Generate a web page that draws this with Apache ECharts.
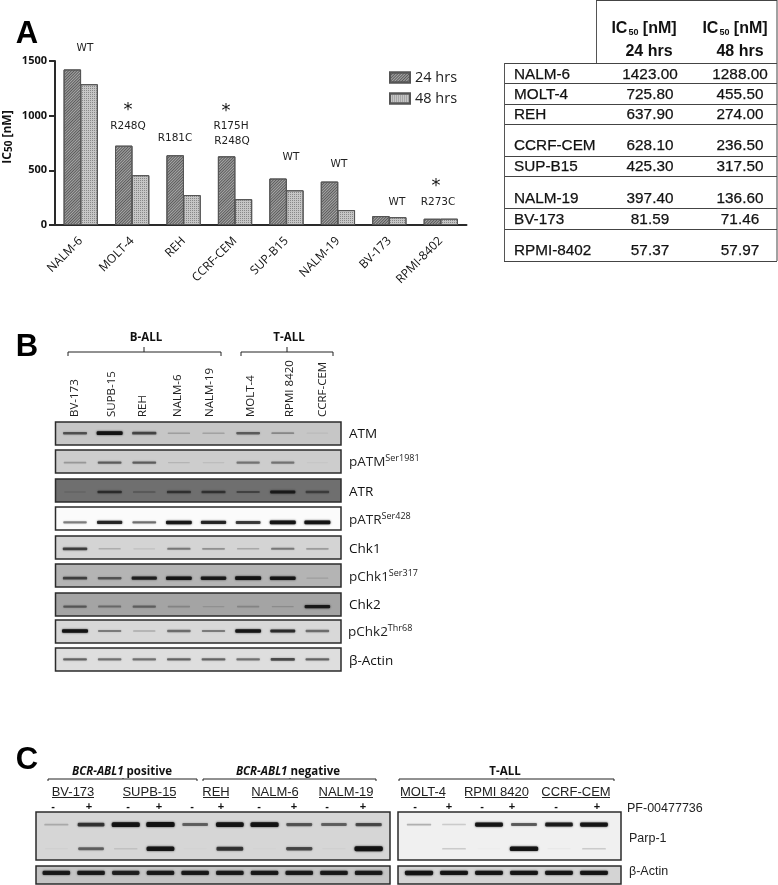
<!DOCTYPE html>
<html>
<head>
<meta charset="utf-8">
<script src="https://cdn.jsdelivr.net/npm/echarts@6/dist/echarts.min.js"></script>
<style>
html,body{margin:0;padding:0;background:#fff}
#main{width:778px;height:885px}
</style>
</head>
<body>
<div id="main"></div>
<script>
// panel A
var cellLines = ['NALM-6','MOLT-4','REH','CCRF-CEM','SUP-B15','NALM-19','BV-173','RPMI-8402']
var ic50_24 = [1423,725.8,637.9,628.1,425.3,397.4,81.59,57.37]
var ic50_48 = [1288,455.5,274,236.5,317.5,136.6,71.46,57.97]
var yTicks = [0,500,1000,1500]

// panel B, band darkness 0..1 per lane
var lanesB = ['BV-173','SUPB-15','REH','NALM-6','NALM-19','MOLT-4','RPMI 8420','CCRF-CEM']
var proteinsB = ['ATM','pATM','ATR','pATR','Chk1','pChk1','Chk2','pChk2','β-Actin']
var atm = [.55,.95,.6,.2,.18,.5,.3,.06]
var pAtm = [.25,.5,.5,.12,.08,.4,.4,.03]
var atr = [.1,.6,.25,.55,.55,.4,.8,.45]
var pAtr = [.45,.8,.5,.9,.8,.7,.95,.95]
var chk1 = [.65,.18,.1,.4,.3,.2,.4,.25]
var pChk1 = [.6,.5,.8,.9,.85,.95,.9,.12]
var chk2 = [.45,.35,.4,.2,.12,.2,.15,.85]
var pChk2 = [.95,.4,.2,.45,.4,.9,.75,.45]
var actinB = [.5,.45,.45,.5,.5,.45,.6,.5]

// panel C
var lanesC1 = ['1','2','3','4','5','6','7','8','9','10']
var lanesC2 = ['1','2','3','4','5','6']
var rowsC = ['Parp-1','cleaved','β-Actin']
var parpC1 = [.2,.7,.95,1,.5,.9,.95,.55,.5,.6]
var cleavedC1 = [.03,.5,.1,.9,.02,.7,.02,.6,.04,1]
var actinC1 = [.85,.85,.8,.85,.85,.85,.85,.85,.85,.85]
var parpC2 = [.25,.15,.9,.55,.85,.9]
var cleavedC2 = [0,.15,.02,1,.04,.15]
var actinC2 = [.95,.9,.9,.9,.9,.9]
var treatC1 = ['-','+','-','+','-','+','-','+','-','+']
var treatC2 = ['-','+','-','+','-','+']

var sansUI = '"Open Sans"'
var arial = '"Liberation Sans"'
var g = []

function txt(x,y,s,size,opt){
  opt = opt || {}
  g.push({type:'text',x:x,y:y,rotation:opt.rot||0,z:10,style:{
    text:s,font:(opt.weight||'normal')+' '+size+'px '+(opt.family||sansUI),
    fill:opt.color||'#111',align:opt.align||'center',verticalAlign:'middle',rich:opt.rich,
    stroke:opt.heavy?'#111':null,lineWidth:opt.heavy||0
  }})
}
function line(x1,y1,x2,y2,w,c){
  g.push({type:'line',z:1,shape:{x1:x1,y1:y1,x2:x2,y2:y2},style:{stroke:c||'#333',lineWidth:w||1}})
}
function panel(x1,y1,x2,y2,fill){
  g.push({type:'rect',z:0,shape:{x:x1,y:y1,width:x2-x1,height:y2-y1},style:{fill:fill,stroke:'#2b2b2b',lineWidth:1.5}})
}
function bracket(x1,x2,xm,y,dn,up){
  line(x1,y,x2,y,1,'#222'); line(x1,y,x1,y+dn,1,'#222'); line(x2,y,x2,y+dn,1,'#222'); line(xm,y,xm,y-up,1,'#222')
}

// panel letters
txt(27,34,'A',31,{weight:'bold',family:arial,color:'#000'})
txt(27,347,'B',31,{weight:'bold',family:arial,color:'#000'})
txt(27,760,'C',31,{weight:'bold',family:arial,color:'#000'})

// y axis title of A
txt(8,137,'{a|IC}{b|50}{a| [nM]}',12,{rot:Math.PI/2,rich:{
  a:{font:'bold 12px '+sansUI,fill:'#111'},b:{font:'bold 10px '+sansUI,fill:'#111',padding:[2,0,0,0]}
}})

// p53 status over the bars
var mut = [[85,48,'WT'],[128,126,'R248Q'],[175,138,'R181C'],[231,126,'R175H'],[232,141,'R248Q'],
  [291,157,'WT'],[339,164,'WT'],[397,202,'WT'],[438,202,'R273C']]
mut.forEach(function(m){ txt(m[0],m[1],m[2],10.5,{family:'"DejaVu Sans"',color:'#222'}) })
;[[128,110],[226,111],[436,186]].forEach(function(m){ txt(m[0],m[1],'*',18,{family:'"DejaVu Sans"',color:'#111'}) })

// table
var rowLinesY = [63,83,104,124,156,176,208,229,261]
var rowTextY = [75,95,115,146,167,199,220,251]
rowLinesY.forEach(function(y){ line(504,y+0.5,777,y+0.5,1,'#444') })
line(504.5,63,504.5,261,1,'#555')
line(777,0,777,261,1,'#444')
line(596.5,0,596.5,63,1,'#555')
line(596,0.5,777,0.5,1,'#444')
var hdrRich = {a:{font:'bold 16px '+arial,fill:'#111'},b:{font:'bold 9px '+arial,fill:'#111',padding:[7,0,0,1]}}
txt(644,29,'{a|IC}{b|50}{a| [nM]}',16,{family:arial,rich:hdrRich})
txt(735,29,'{a|IC}{b|50}{a| [nM]}',16,{family:arial,rich:hdrRich})
txt(649,52,'24 hrs',16,{family:arial,weight:'bold'})
txt(740,52,'48 hrs',16,{family:arial,weight:'bold'})
cellLines.forEach(function(c,i){
  txt(514,rowTextY[i],c,15.3,{family:arial,align:'left',heavy:0.25})
  txt(650,rowTextY[i],ic50_24[i].toFixed(2),15.3,{family:arial,heavy:0.25})
  txt(740,rowTextY[i],ic50_48[i].toFixed(2),15.3,{family:arial,heavy:0.25})
})

// panel B headers and panels
txt(146,338,'B-ALL',11.5,{weight:'bold'})
txt(289,338,'T-ALL',11.5,{weight:'bold'})
bracket(68,221,144,352,4,5)
bracket(241,333,287,352,4,5)
var laneLabelX = [75,112,143,178,210,251,290,323]
lanesB.forEach(function(l,i){ txt(laneLabelX[i],417,l,11.5,{rot:Math.PI/2,align:'left',color:'#222'}) })

var panelTopB = [422,450,479,507,536,564,593,620,648]
var panelFillB = ['#c6c6c6','#cdcdcd','#6f6f6f','#fbfbfb','#d4d4d4','#b4b4b4','#a4a4a4','#d8d8d8','#dedede']
panelTopB.forEach(function(y,i){ panel(55.5,y,341,y+23,panelFillB[i]) })

var supRich = {a:{font:'13.5px '+sansUI,fill:'#222'},s:{font:'9px '+sansUI,fill:'#222',padding:[0,0,7,0]}}
txt(349,434,'ATM',13.5,{align:'left'})
txt(349,462,'{a|pATM}{s|Ser1981}',13.5,{align:'left',rich:supRich})
txt(349,492,'ATR',13.5,{align:'left'})
txt(349,520,'{a|pATR}{s|Ser428}',13.5,{align:'left',rich:supRich})
txt(349,549,'Chk1',13.5,{align:'left'})
txt(349,577,'{a|pChk1}{s|Ser317}',13.5,{align:'left',rich:supRich})
txt(349,605,'Chk2',13.5,{align:'left'})
txt(348,632,'{a|pChk2}{s|Thr68}',13.5,{align:'left',rich:supRich})
txt(349,661,'β-Actin',13.5,{align:'left'})

// panel C headers and panels
var titleRich = {i:{font:'italic bold 11.5px '+sansUI,fill:'#111'},b:{font:'bold 11.5px '+sansUI,fill:'#111'}}
txt(122,772,'{i|BCR-ABL1}{b| positive}',11.5,{rich:titleRich})
txt(288,772,'{i|BCR-ABL1}{b| negative}',11.5,{rich:titleRich})
txt(505,772,'T-ALL',11.5,{weight:'bold'})
bracket(48,197,123,779,2,1)
bracket(203,376,290,779,2,1)
bracket(399,614,507,779,2,1)
var groupsC = [['BV-173',52,94],['SUPB-15',123,176],['REH',203,229],['NALM-6',252,298],['NALM-19',319,373],
  ['MOLT-4',401,445],['RPMI 8420',465,528],['CCRF-CEM',542,610]]
groupsC.forEach(function(t){
  txt((t[1]+t[2])/2,792,t[0],13,{family:arial,color:'#222'})
  line(t[1],797.5,t[2],797.5,1,'#222')
})
var treatX1 = [53,89,128,159,192,221,259,294,327,363]
var treatX2 = [415,449,482,512,556,597]
treatC1.forEach(function(s,i){ txt(treatX1[i],807,s,11,{family:arial,weight:'bold'}) })
treatC2.forEach(function(s,i){ txt(treatX2[i],807,s,11,{family:arial,weight:'bold'}) })
txt(627,809,'PF-00477736',12.5,{family:arial,align:'left',color:'#222'})
txt(629,839,'Parp-1',12.5,{family:arial,align:'left',color:'#222'})
txt(629,872,'β-Actin',12.5,{family:arial,align:'left',color:'#222'})
panel(36,812,390,860,'#d6d6d6')
panel(36,866,390,884,'#c4c4c4')
panel(398,812,621,860,'#f0f0f0')
panel(398,866,621,884,'#d4d4d4')

// blot bands
function bandData(rows){
  var out = []
  rows.forEach(function(r,j){ r.forEach(function(a,i){ out.push([i,j,a]) }) })
  return out
}
function bandSeries(name,idx,rows,bw,thick,shift){
  return {
    type:'custom',name:name,xAxisIndex:idx,yAxisIndex:idx,z:5,silent:true,
    data:bandData(rows),encode:{x:0,y:1},
    renderItem:function(params,api){
      var p = api.coord([api.value(0),api.value(1)])
      var a = api.value(2)
      var h = 1+a*thick
      var w = bw*(0.85+a*0.2)
      var dy = shift ? shift[api.value(1)] : 0
      var c = 'rgba(15,15,15,'+Math.min(.92,a).toFixed(2)+')'
      return {type:'rect',shape:{x:p[0]-w/2,y:p[1]+dy-h/2,width:w,height:h,r:h/3},
        style:{fill:c,shadowBlur:2,shadowColor:c}}
    }
  }
}
function hiddenX(grid,data){ return {type:'category',gridIndex:grid,data:data,show:false} }
function hiddenY(grid,data){ return {type:'category',gridIndex:grid,data:data,show:false,inverse:true} }

var hatch24 = {symbol:'rect',dashArrayX:[1,0],dashArrayY:[1,1],rotation:-Math.PI/4,color:'#5a5a5a'}
var dots48 = {symbol:'rect',dashArrayX:[1,1],dashArrayY:[1,1],rotation:0,color:'#888'}

var chart = echarts.init(document.getElementById('main'),null,{renderer:'canvas'})
chart.setOption({
  animation:false,
  backgroundColor:'#fff',
  legend:{
    left:384,top:65,orient:'vertical',icon:'rect',itemWidth:20,itemHeight:10,itemGap:6,
    data:['24 hrs','48 hrs'],
    textStyle:{fontFamily:sansUI,fontSize:14.5,color:'#222'}
  },
  grid:[
    {left:55,top:61,width:411.5,height:164},
    {left:57.7,top:421,width:277,height:255.6},
    {left:39,top:812.5,width:347,height:75},
    {left:401.5,top:812.5,width:210,height:75}
  ],
  xAxis:[
    {type:'category',gridIndex:0,data:cellLines,
      axisLine:{lineStyle:{color:'#2a2a2a',width:2}},
      axisTick:{alignWithLabel:true,length:6,lineStyle:{color:'#2a2a2a',width:2}},
      axisLabel:{rotate:45,margin:14,interval:0,fontFamily:sansUI,fontSize:12,color:'#111'}},
    hiddenX(1,lanesB),hiddenX(2,lanesC1),hiddenX(3,lanesC2)
  ],
  yAxis:[
    {type:'value',gridIndex:0,min:yTicks[0],max:yTicks[yTicks.length-1],interval:yTicks[1],
      splitLine:{show:false},
      axisLine:{show:true,lineStyle:{color:'#2a2a2a',width:2}},
      axisTick:{show:true,length:6,lineStyle:{color:'#2a2a2a',width:2}},
      axisLabel:{margin:8,formatter:function(v){return String(v)},fontFamily:sansUI,fontWeight:'bold',fontSize:11,color:'#111'}},
    hiddenY(1,proteinsB),hiddenY(2,rowsC),hiddenY(3,rowsC)
  ],
  series:[
    {type:'bar',name:'24 hrs',data:ic50_24,barWidth:17.5,barGap:'-4%',
      itemStyle:{color:'#a8a8a8',borderColor:'#555',borderWidth:1,decal:hatch24}},
    {type:'bar',name:'48 hrs',data:ic50_48,barWidth:17.5,barGap:'-4%',
      itemStyle:{color:'#c6c6c6',borderColor:'#555',borderWidth:1,decal:dots48}},
    bandSeries('blotB',1,[atm,pAtm,atr,pAtr,chk1,pChk1,chk2,pChk2,actinB],25,2.8,[-2,-1,0,2,0,1,1,-3,-3]),
    bandSeries('blotC1',2,[parpC1,cleavedC1,actinC1],27,4),
    bandSeries('blotC2',3,[parpC2,cleavedC2,actinC2],27,3.6)
  ],
  graphic:{elements:g}
})
</script>
</body>
</html>
